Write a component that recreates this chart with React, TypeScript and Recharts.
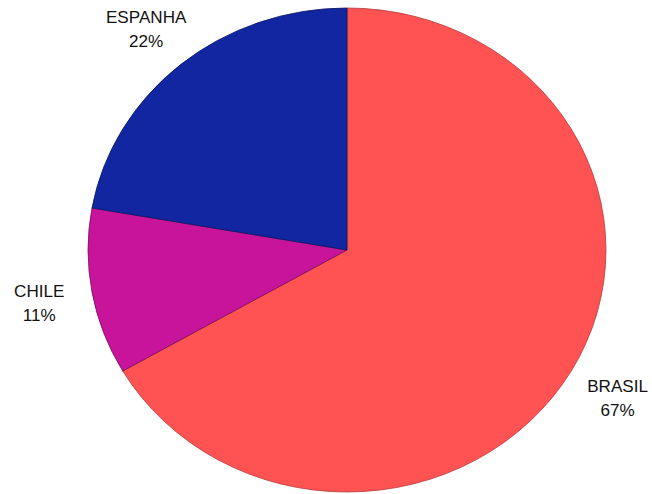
import React from 'react';
import { PieChart, Pie, Cell } from 'recharts';

const countries = ['BRASIL', 'CHILE', 'ESPANHA'];
const counts = [6, 1, 2];
const colors = ['#FF5252', '#C8139B', '#1226A2'];
const edgeColors = ['#B83A3A', '#7A0C5E', '#0A1660'];

const data = countries.map((name, i) => ({ name, value: counts[i] }));

const RAD = Math.PI / 180;

const renderLabel = (props: any) => {
  const { cx, cy, midAngle, percent, name } = props;
  const r = 292;
  const x = cx + r * Math.cos(-midAngle * RAD);
  const y = cy + r * Math.sin(-midAngle * RAD) + 3;
  return (
    <g>
      <text x={x} y={y - 12} textAnchor="middle" dominantBaseline="central" fontSize={16} fill="#111" fontFamily="'Liberation Sans', Arial, sans-serif">
        {name}
      </text>
      <text x={x} y={y + 12} textAnchor="middle" dominantBaseline="central" fontSize={16} fill="#111" fontFamily="'Liberation Sans', Arial, sans-serif">
        {`${Math.round(percent * 100)}%`}
      </text>
    </g>
  );
};

export default function App() {
  return (
    <div style={{ position: 'absolute', left: 0, top: 0, width: 652, height: 494, background: '#fff', overflow: 'hidden' }}>
      <div style={{ transform: 'scaleX(1.07)', transformOrigin: '0 0', width: 610, height: 494 }}>
        <PieChart width={610} height={494} margin={{ top: 0, right: 0, bottom: 0, left: 0 }}>
          <Pie
            data={data}
            dataKey="value"
            nameKey="name"
            cx={324.3}
            cy={250}
            outerRadius={242}
            startAngle={90}
            endAngle={-270}
            label={renderLabel}
            labelLine={false}
            isAnimationActive={false}
          >
            {data.map((d, i) => (
              <Cell key={d.name} fill={colors[i]} stroke={edgeColors[i]} strokeWidth={0.8} />
            ))}
          </Pie>
        </PieChart>
      </div>
    </div>
  );
}
